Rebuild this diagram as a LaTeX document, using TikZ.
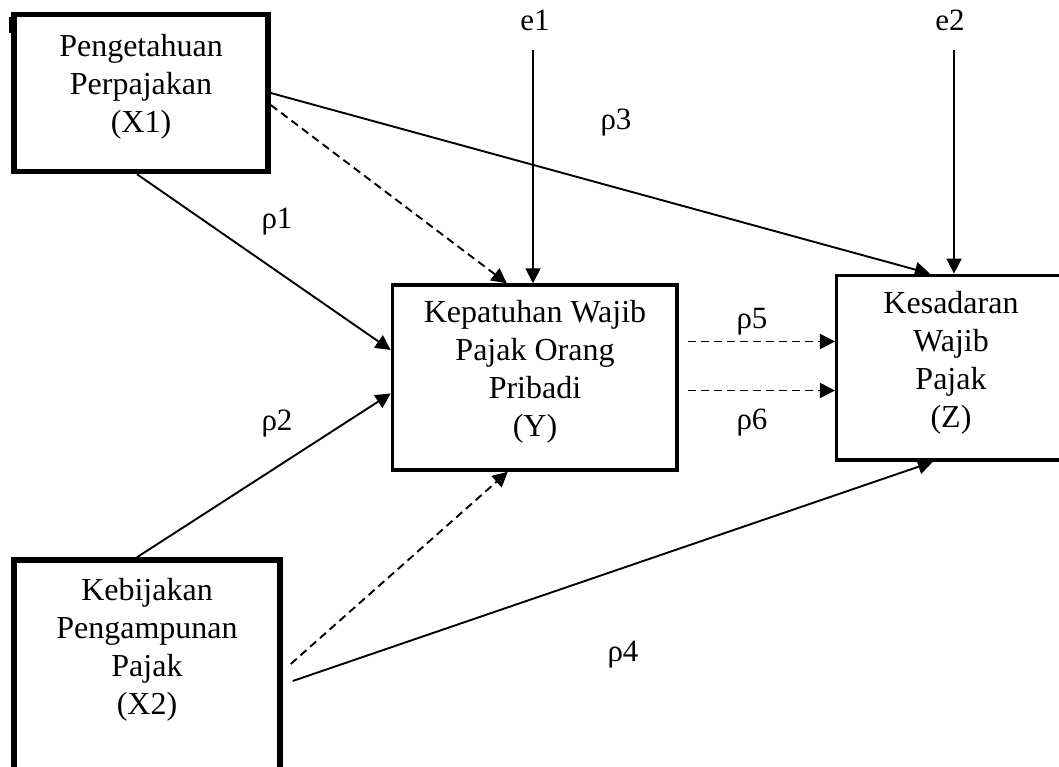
\documentclass[tikz,border=0pt]{standalone}
\usepackage{fontspec}
\setmainfont{Liberation Serif}
\usetikzlibrary{arrows.meta,calc}
\begin{document}
\begin{tikzpicture}[x=1pt,y=-1pt,
  box/.style={draw, rectangle, line width=3.5pt, inner sep=0pt},
  heavy/.style={box, line width=5.5pt},
  boxtext/.style={align=center, inner sep=0pt, font=\fontsize{32}{38}\selectfont},
  lbl/.style={inner sep=0pt, font=\fontsize{31}{34}\selectfont},
  link/.style={line width=1.9pt, -{Triangle[length=15pt,width=15pt]}},
  hint/.style={link, dash pattern=on 8pt off 5pt}]
\useasboundingbox (0,0) rectangle (1059,767);
\clip (0,0) rectangle (1059,767);

% variable boxes
\node[heavy, minimum width=254pt, minimum height=157pt] (X1) at (141,93) {};
\node[heavy, minimum width=266pt, minimum height=220pt] (X2) at (147,670) {};
\node[box, minimum width=284.5pt, minimum height=185pt] (Y) at (534.75,377.5) {};
\node[box, minimum width=228.3pt, minimum height=184.7pt] (Z) at (950.85,367.7) {};
\fill (9,17) rectangle (12,33);

% box captions
\node[boxtext] (X1t) at (141,87) {Pengetahuan\\Perpajakan\\(X1)};
\node[boxtext] (X2t) at (147,650) {Kebijakan\\Pengampunan\\Pajak\\(X2)};
\node[boxtext] (Yt) at (535,372) {Kepatuhan Wajib\\Pajak Orang\\Pribadi\\(Y)};
\node[boxtext] (Zt) at (951,363) {Kesadaran\\Wajib\\Pajak\\(Z)};

% error terms
\node[lbl] (e1) at (535,20) {e1};
\node[lbl] (e2) at (950,20) {e2};
\coordinate (e1s) at (533,50);
\coordinate (e2s) at (954,50);
\draw[link] (e1s) -- (e1s |- Y.north);
\draw[link] (e2s) -- (e2s |- Z.north);

% paths
\draw[link] ([xshift=-4pt]X1.south) -- ($(Y.west)+(0,-27.5)$);
\draw[link] ([xshift=-10pt]X2.north) -- ($(Y.west)+(0,16)$);
\draw[hint] ($(X1.east)+(0,12)$) -- ($(Y.north)+(-28,0)$);
\draw[link] (X1.east) -- ($(Z.north)+(-21,0)$);
\draw[hint] ($(X2.east)+(8,-6)$) -- ($(Y.south)+(-27,0)$);
\draw[link] ($(X2.east)+(10,11)$) -- ($(Z.south)+(-18,0)$);
\coordinate (p5) at ($(Y.east)+(9,-36)$);
\coordinate (p6) at ($(Y.east)+(9,13)$);
\draw[hint] (p5) -- (p5 -| Z.west);
\draw[hint] (p6) -- (p6 -| Z.west);

% path coefficients
\node[lbl] (r1) at (277,222) {ρ1};
\node[lbl] (r2) at (277,424) {ρ2};
\node[lbl] (r3) at (616,123) {ρ3};
\node[lbl] (r4) at (623,655) {ρ4};
\node[lbl] (r5) at (752,322) {ρ5};
\node[lbl] (r6) at (752,423) {ρ6};
\end{tikzpicture}
\end{document}
